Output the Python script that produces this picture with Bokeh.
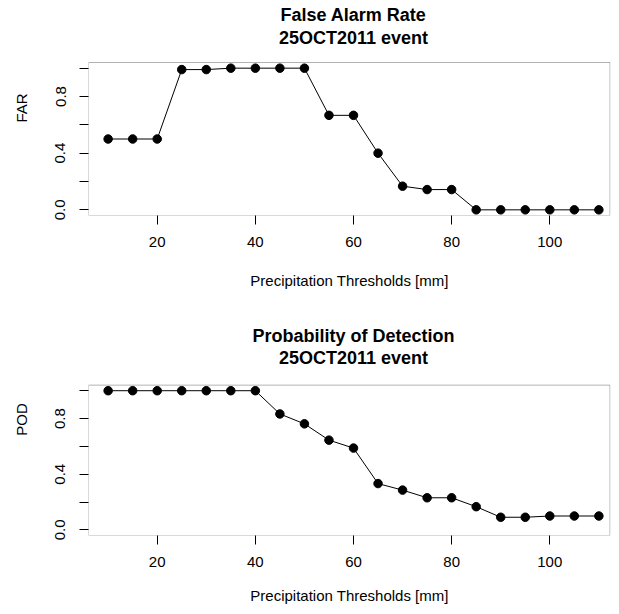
from bokeh.plotting import figure
from bokeh.models import FixedTicker, Label, ColumnDataSource, BoxAnnotation, PrintfTickFormatter
from bokeh.layouts import column
from bokeh.embed import file_html
from bokeh.resources import INLINE

thresholds = [10, 15, 20, 25, 30, 35, 40, 45, 50, 55, 60, 65, 70, 75, 80, 85, 90, 95, 100, 105, 110]
far_values = [0.5, 0.5, 0.5, 0.99, 0.99, 1.0, 1.0, 1.0, 1.0, 0.667, 0.667, 0.4, 0.167, 0.143, 0.143,
              0.0, 0.0, 0.0, 0.0, 0.0, 0.0]
pod_values = [1.0, 1.0, 1.0, 1.0, 1.0, 1.0, 1.0, 0.833, 0.762, 0.645, 0.588, 0.333, 0.286, 0.231, 0.231,
              0.167, 0.091, 0.091, 0.1, 0.1, 0.1]
x_ticks = [20, 40, 60, 80, 100]
y_major = [0.0, 0.4, 0.8]
y_minor = [0.2, 0.6, 1.0]

titles = [("False Alarm Rate", "25OCT2011 event"), ("Probability of Detection", "25OCT2011 event")]
ylabels = ["FAR", "POD"]
xlabel = "Precipitation Thresholds [mm]"

FONT = "Liberation Sans"
FIG_W, FIG_H = 611, 303
LEFT = 88
X0, X1 = 6.0, 114.0      # R-style padded x domain
Y0, Y1 = -0.04, 1.04     # R-style padded y domain
PX_PER_X = 530.0 / (X1 - X0)


def make_plot(yvals, title, ylab, box_top, box_bottom, t1_px, t2_px, lab_standoff):
    frame_w = FIG_W - LEFT - 1
    frame_h = box_bottom
    py = (box_bottom - box_top) / (Y1 - Y0)
    x_end = X0 + frame_w / PX_PER_X
    y_end = Y0 + frame_h / py
    p = figure(width=FIG_W, height=FIG_H, output_backend="svg", toolbar_location=None,
               x_range=(X0, x_end), y_range=(Y0, y_end),
               min_border_left=LEFT, min_border_right=1,
               min_border_top=0, min_border_bottom=FIG_H - box_bottom)
    p.background_fill_color = "white"
    p.border_fill_color = "white"
    p.outline_line_color = None
    p.xgrid.visible = False
    p.ygrid.visible = False

    # plot box (R's box())
    p.add_layout(BoxAnnotation(left=X0, right=x_end - 0.5 / PX_PER_X, bottom=Y0, top=Y1,
                               fill_color=None, line_color="black", line_width=1))

    xa = p.xaxis[0]
    xa.ticker = FixedTicker(ticks=x_ticks, minor_ticks=[])
    xa.axis_line_color = None
    xa.major_tick_out = 9
    xa.major_tick_in = 0
    xa.major_tick_line_color = "black"
    xa.minor_tick_line_color = None
    xa.major_label_text_font = FONT
    xa.major_label_text_font_size = "15px"
    xa.major_label_text_color = "black"
    xa.major_label_standoff = 12
    xa.axis_label = xlabel
    xa.axis_label_text_font = FONT
    xa.axis_label_text_font_size = "15px"
    xa.axis_label_text_font_style = "normal"
    xa.axis_label_text_color = "black"
    xa.axis_label_standoff = lab_standoff

    ya = p.yaxis[0]
    ya.ticker = FixedTicker(ticks=y_major, minor_ticks=y_minor)
    ya.formatter = PrintfTickFormatter(format="%.1f")
    ya.axis_line_color = None
    ya.major_tick_out = 9
    ya.major_tick_in = 0
    ya.minor_tick_out = 9
    ya.minor_tick_in = 0
    ya.major_tick_line_color = "black"
    ya.minor_tick_line_color = "black"
    ya.major_label_orientation = "vertical"
    ya.major_label_text_font = FONT
    ya.major_label_text_font_size = "15px"
    ya.major_label_text_color = "black"
    ya.major_label_standoff = 14
    ya.axis_label = ylab
    ya.axis_label_text_font = FONT
    ya.axis_label_text_font_size = "15px"
    ya.axis_label_text_font_style = "normal"
    ya.axis_label_text_color = "black"
    ya.axis_label_standoff = 23

    src = ColumnDataSource(dict(x=thresholds, y=yvals))
    p.line("x", "y", source=src, line_color="black", line_width=1)
    p.scatter("x", "y", source=src, size=8.5, fill_color="black", line_color="black")

    xc = (X0 + X1) / 2
    for txt, px in ((title[0], t1_px), (title[1], t2_px)):
        p.add_layout(Label(x=xc, y=Y0 + (frame_h - px) / py, text=txt, text_align="center",
                           text_baseline="middle", text_font=FONT,
                           text_font_size="18px", text_font_style="bold", text_color="black"))
    return p


p1 = make_plot(far_values, titles[0], ylabels[0], 62, 215, 14, 37, 22)
p2 = make_plot(pod_values, titles[1], ylabels[1], 82, 233, 33, 55, 17)

layout = column(p1, p2, spacing=0)
open("out.html", "w").write(file_html(layout, INLINE))
